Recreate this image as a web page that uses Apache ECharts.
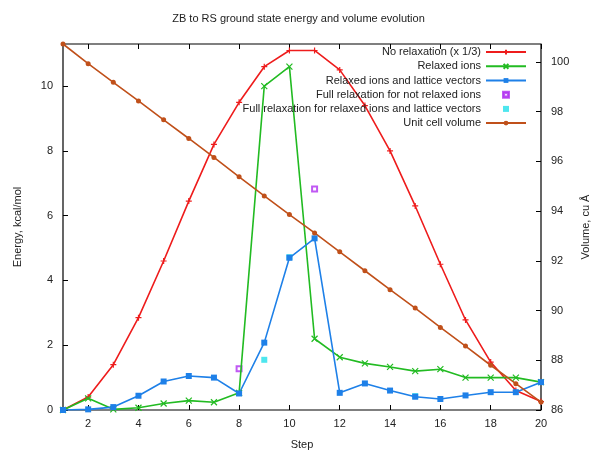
<!DOCTYPE html>
<html>
<head>
<meta charset="utf-8">
<script src="https://cdn.jsdelivr.net/npm/echarts@6/dist/echarts.min.js"></script>
<style>
  html, body { margin: 0; padding: 0; background: #fff; }
  #chart { width: 597px; height: 451px; }
</style>
</head>
<body>
<div id="chart"></div>
<script>
// Steps of the ZB -> RS transition path
const steps = [1,2,3,4,5,6,7,8,9,10,11,12,13,14,15,16,17,18,19,20];

// Energies, kcal/mol (unrelaxed curve already scaled by 1/3)
const noRelaxation = [0, 0.4, 1.4, 2.85, 4.6, 6.45, 8.2, 9.5, 10.6, 11.1, 11.1, 10.5, 9.4, 8.0, 6.3, 4.5, 2.78, 1.48, 0.6, 0.26];
const relaxedIons  = [0, 0.36, 0.02, 0.07, 0.2, 0.29, 0.24, 0.53, 10.0, 10.6, 2.2, 1.63, 1.44, 1.33, 1.2, 1.26, 1.0, 1.0, 1.0, 0.86];
const relaxedIonsLattice = [0, 0.02, 0.09, 0.44, 0.88, 1.05, 1.0, 0.51, 2.08, 4.7, 5.3, 0.53, 0.82, 0.6, 0.41, 0.34, 0.45, 0.55, 0.55, 0.86];

// Full relaxation runs: [step, energy]
const fullNotRelaxed = [[8, 1.27], [11, 6.82]];
const fullRelaxedLattice = [[9, 1.55], [10, 4.72], [15, 0.43]];

// Unit cell volume, cubic Angstrom
const cellVolume = [100.72, 99.93, 99.18, 98.43, 97.67, 96.92, 96.16, 95.38, 94.61, 93.86, 93.12, 92.36, 91.6, 90.84, 90.1, 89.32, 88.57, 87.8, 87.06, 86.32];

// Tick labels
const stepTicks = [2,4,6,8,10,12,14,16,18,20];
const energyTicks = [0,2,4,6,8,10];
const volumeTicks = [86,88,90,92,94,96,98,100];

const FONT = 'Liberation Sans, Arial, sans-serif';
const TXT = '#222';

const plus = 'path://M0,5L10,5M5,0L5,10';
const cross = 'path://M1,1L9,9M9,1L1,9';
// square outlines / fills used as small legend keys for the point-only series
const hollowSquare = 'path://M0,0L10,0L10,10L0,10Z M2,2L2,8L8,8L8,2Z';
const solidSquare = 'path://M0,0L10,0L10,10L0,10Z';

const pair = (ys) => steps.map((s, i) => [s, ys[i]]);

const chart = echarts.init(document.getElementById('chart'), null, { renderer: 'canvas' });

const tickStyle = { show: true, inside: true, length: 5, lineStyle: { color: '#000', width: 1 } };

chart.setOption({
  animation: false,
  backgroundColor: '#fff',
  title: {
    text: 'ZB to RS ground state energy and volume evolution',
    left: 'center', top: 8,
    textStyle: { fontFamily: FONT, fontSize: 11, fontWeight: 'normal', color: TXT }
  },
  grid: {
    left: 63, right: 56, top: 44, bottom: 41,
    outerBoundsMode: 'none', containLabel: false,
    show: true, borderColor: '#000', borderWidth: 1.2, backgroundColor: 'transparent'
  },
  legend: {
    orient: 'vertical', align: 'right',
    right: 65, top: 40,
    itemWidth: 40, itemHeight: 6, itemGap: 0,
    symbolKeepAspect: true,
    textStyle: { fontFamily: FONT, fontSize: 11, color: TXT, lineHeight: 14.2 },
    data: [
      { name: 'No relaxation (x 1/3)' },
      { name: 'Relaxed ions' },
      { name: 'Relaxed ions and lattice vectors' },
      { name: 'Full relaxation for not relaxed ions', icon: hollowSquare },
      { name: 'Full relaxation for relaxed ions and lattice vectors', icon: solidSquare },
      { name: 'Unit cell volume' }
    ]
  },
  xAxis: [
    {
      type: 'value', min: 1, max: 20, position: 'bottom',
      name: 'Step', nameLocation: 'middle', nameGap: 29,
      nameTextStyle: { fontFamily: FONT, fontSize: 11, color: TXT },
      axisLine: { show: false },
      axisTick: Object.assign({ customValues: stepTicks }, tickStyle),
      axisLabel: { customValues: stepTicks, fontFamily: FONT, fontSize: 11, color: TXT, margin: 8 },
      splitLine: { show: false }
    },
    {
      type: 'value', min: 1, max: 20, position: 'top',
      axisLine: { show: false },
      axisTick: Object.assign({ customValues: stepTicks }, tickStyle),
      axisLabel: { show: false },
      splitLine: { show: false }
    }
  ],
  yAxis: [
    {
      type: 'value', min: 0, max: 11.3, position: 'left',
      name: 'Energy, kcal/mol', nameLocation: 'middle', nameGap: 40, nameRotate: 90,
      nameTextStyle: { fontFamily: FONT, fontSize: 11, color: TXT },
      axisLine: { show: false },
      axisTick: Object.assign({ customValues: energyTicks }, tickStyle),
      axisLabel: { customValues: energyTicks, fontFamily: FONT, fontSize: 11, color: TXT, margin: 10 },
      splitLine: { show: false }
    },
    {
      type: 'value', min: 86, max: 100.72, position: 'right',
      name: 'Volume, cu Å', nameLocation: 'middle', nameGap: 36, nameRotate: 90,
      nameTextStyle: { fontFamily: FONT, fontSize: 11, color: TXT },
      axisLine: { show: false },
      axisTick: Object.assign({ customValues: volumeTicks }, tickStyle),
      axisLabel: { customValues: volumeTicks, fontFamily: FONT, fontSize: 11, color: TXT, margin: 10 },
      splitLine: { show: false }
    }
  ],
  series: [
    {
      name: 'No relaxation (x 1/3)', type: 'line', data: pair(noRelaxation),
      symbol: plus, symbolSize: 6, showSymbol: true,
      lineStyle: { color: '#ee1c1c', width: 1.6 },
      itemStyle: { color: '#ee1c1c', borderColor: '#ee1c1c', borderWidth: 1.2 }
    },
    {
      name: 'Relaxed ions', type: 'line', data: pair(relaxedIons),
      symbol: cross, symbolSize: 6,
      lineStyle: { color: '#22bb22', width: 1.6 },
      itemStyle: { color: '#22bb22', borderColor: '#22bb22', borderWidth: 1.2 }
    },
    {
      name: 'Relaxed ions and lattice vectors', type: 'line', data: pair(relaxedIonsLattice),
      symbol: 'rect', symbolSize: 6,
      lineStyle: { color: '#1e80e8', width: 1.6 },
      itemStyle: { color: '#1e80e8' }
    },
    {
      name: 'Full relaxation for not relaxed ions', type: 'scatter', data: fullNotRelaxed,
      symbol: 'emptyRect', symbolSize: 5,
      itemStyle: { color: '#b030f0', borderColor: '#b030f0', borderWidth: 1.3 }
    },
    {
      name: 'Full relaxation for relaxed ions and lattice vectors', type: 'scatter', data: fullRelaxedLattice,
      symbol: 'rect', symbolSize: 6,
      itemStyle: { color: '#22e0ea' }
    },
    {
      name: 'Unit cell volume', type: 'line', yAxisIndex: 1, data: pair(cellVolume),
      symbol: 'circle', symbolSize: 5,
      lineStyle: { color: '#c0501a', width: 1.6 },
      itemStyle: { color: '#c0501a' }
    }
  ]
});
</script>
</body>
</html>
